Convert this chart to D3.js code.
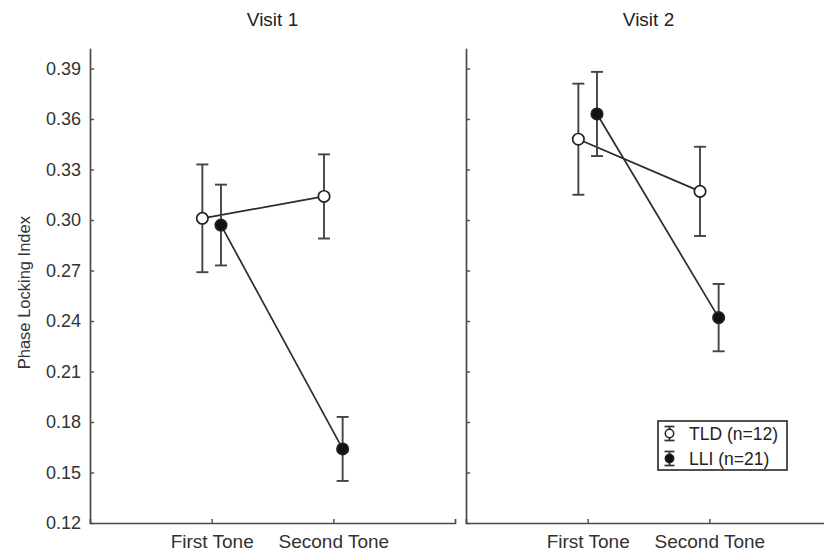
<!DOCTYPE html>
<html>
<head>
<meta charset="utf-8">
<script src="https://cdn.jsdelivr.net/npm/d3@7"></script>
<style>
  html, body { margin: 0; padding: 0; background: #fff; }
  svg { display: block; font-family: "Liberation Sans", Arial, Helvetica, sans-serif; }
</style>
</head>
<body>
<svg id="chart" width="824" height="555"></svg>
<script>
// Phase locking index by tone, for each visit and group (mean ± error)
const visits = ["Visit 1", "Visit 2"];
const tones = ["First Tone", "Second Tone"];
const yTicks = [0.12, 0.15, 0.18, 0.21, 0.24, 0.27, 0.30, 0.33, 0.36, 0.39];

const groups = ["TLD (n=12)", "LLI (n=21)"];
// [visit][tone]
const tldMean = [[0.301, 0.314], [0.348, 0.317]];
const tldErr  = [[0.032, 0.025], [0.033, 0.0265]];
const lliMean = [[0.297, 0.164], [0.363, 0.242]];
const lliErr  = [[0.024, 0.019], [0.025, 0.020]];

const svg = d3.select("#chart");
const ink = "#2b2b2b";
const axisInk = "#4a4a4a";

const panelLeft = [90, 466];
const panelW = 365;
const yTop = 48.3, yBottom = 523;

const y = d3.scaleLinear().domain([0.12, 0.402]).range([yBottom, yTop]);
const x = d3.scalePoint().domain(tones).range([0, panelW]).padding(1);
const groupShift = [-0.0765, 0.0765]; // fraction of step, TLD left / LLI right

const series = [
  { name: groups[0], mean: tldMean, err: tldErr, fill: "#ffffff" },
  { name: groups[1], mean: lliMean, err: lliErr, fill: "#111111" }
];

// y-axis title
svg.append("text")
  .attr("transform", `translate(30,${(yTop + yBottom) / 2 + 7}) rotate(-90)`)
  .attr("text-anchor", "middle")
  .attr("font-size", 16.5)
  .attr("fill", "#333")
  .text("Phase Locking Index");

visits.forEach((visit, vi) => {
  const g = svg.append("g").attr("transform", `translate(${panelLeft[vi]},0)`);

  // panel title
  g.append("text")
    .attr("x", panelW / 2).attr("y", 26)
    .attr("text-anchor", "middle")
    .attr("font-size", 19)
    .attr("fill", "#222")
    .text(visit);

  // y axis
  const ya = d3.axisLeft(y).tickValues(yTicks).tickSizeInner(-4).tickSizeOuter(0)
    .tickPadding(9).tickFormat(d3.format(".2f"));
  const yg = g.append("g").call(ya);
  yg.select(".domain").attr("stroke", axisInk).attr("stroke-width", 1.7);
  yg.selectAll(".tick line").attr("stroke", axisInk).attr("stroke-width", 1.4);
  yg.selectAll(".tick text").attr("font-size", 18).attr("fill", "#333")
    .attr("font-family", "Liberation Sans, Arial, sans-serif");
  if (vi > 0) yg.selectAll(".tick text").remove();

  // x axis
  const xa = d3.axisBottom(x).tickSizeInner(-4).tickSizeOuter(-4).tickPadding(12);
  const xg = g.append("g").attr("transform", `translate(0,${yBottom})`).call(xa);
  xg.select(".domain").attr("stroke", axisInk).attr("stroke-width", 1.7);
  xg.selectAll(".tick line").attr("stroke", axisInk).attr("stroke-width", 1.4);
  xg.selectAll(".tick text").attr("font-size", 19).attr("fill", "#333")
    .attr("font-family", "Liberation Sans, Arial, sans-serif");

  const step = x.step();
  const px = (ti, si) => x(tones[ti]) + groupShift[si] * step;

  // connecting lines
  series.forEach((s, si) => {
    const pts = tones.map((t, ti) => [px(ti, si), y(s.mean[vi][ti])]);
    g.append("path")
      .attr("d", d3.line()(pts))
      .attr("fill", "none").attr("stroke", ink).attr("stroke-width", 1.7);
  });

  // error bars
  series.forEach((s, si) => {
    tones.forEach((t, ti) => {
      const cx = px(ti, si);
      const m = s.mean[vi][ti], e = s.err[vi][ti];
      const eg = g.append("g").attr("stroke", "#444").attr("stroke-width", 1.9);
      eg.append("line").attr("x1", cx).attr("x2", cx).attr("y1", y(m + e)).attr("y2", y(m - e));
      eg.append("line").attr("x1", cx - 6).attr("x2", cx + 6).attr("y1", y(m + e)).attr("y2", y(m + e));
      eg.append("line").attr("x1", cx - 6).attr("x2", cx + 6).attr("y1", y(m - e)).attr("y2", y(m - e));
    });
  });

  // markers
  series.forEach((s, si) => {
    tones.forEach((t, ti) => {
      g.append("circle")
        .attr("cx", px(ti, si)).attr("cy", y(s.mean[vi][ti]))
        .attr("r", 5.7)
        .attr("fill", s.fill).attr("stroke", "#222").attr("stroke-width", 1.7);
    });
  });
});

// legend
const lg = svg.append("g").attr("transform", "translate(658,421)");
lg.append("rect").attr("x", 0).attr("y", 0).attr("width", 129).attr("height", 49)
  .attr("fill", "#fff").attr("stroke", "#333").attr("stroke-width", 1.7);
series.forEach((s, si) => {
  const cy = 12.5 + si * 25;
  const sx = 11.5;
  const r = lg.append("g").attr("stroke", "#333").attr("stroke-width", 1.7);
  r.append("line").attr("x1", sx).attr("x2", sx).attr("y1", cy - 7).attr("y2", cy + 7);
  r.append("line").attr("x1", sx - 5).attr("x2", sx + 5).attr("y1", cy - 7).attr("y2", cy - 7);
  r.append("line").attr("x1", sx - 5).attr("x2", sx + 5).attr("y1", cy + 7).attr("y2", cy + 7);
  lg.append("circle").attr("cx", sx).attr("cy", cy).attr("r", 4.2)
    .attr("fill", s.fill).attr("stroke", "#222").attr("stroke-width", 1.5);
  lg.append("text").attr("x", 31).attr("y", cy + 6)
    .attr("font-size", 17.5).attr("fill", "#222")
    .text(s.name);
});
</script>
</body>
</html>
